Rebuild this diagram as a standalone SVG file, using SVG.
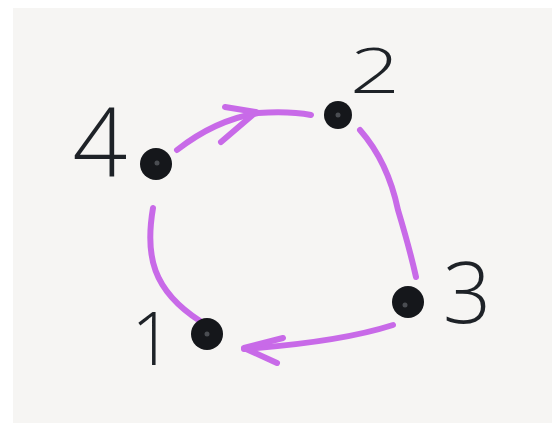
<svg xmlns="http://www.w3.org/2000/svg" width="552" height="424" viewBox="0 0 552 424">
<style>
.edge{fill:none;stroke:#c86ae8;stroke-width:6;stroke-linecap:round;stroke-linejoin:round}
.dot{fill:#15171b}
.hl{fill:#4a4d52}
.lbl{font-family:"Open Sans","Liberation Sans",Arial,sans-serif;font-weight:300;fill:#1e2227;text-anchor:middle}
</style>
<rect width="552" height="424" fill="#ffffff"/>
<rect x="13" y="8" width="539" height="415" fill="#f6f5f3"/>
<g id="connectors">
<path class="edge" d="M177,150 Q215,120 258,113 Q290,111 311,115"/>
<path class="edge" d="M225,107 L256,112 L221,142"/>
<path class="edge" d="M360,130 Q388,162 398,210 Q410,250 416,277"/>
<path class="edge" d="M393,325 Q340,342 244,349"/>
<path class="edge" d="M283,338 L244,348 L277,363"/>
<path class="edge" d="M153,208 C145,255 152,290 200,321"/>
</g>
<g id="node4">
<circle class="dot" cx="156" cy="164" r="16"/>
<circle class="hl" cx="157" cy="163" r="2.5"/>
<text class="lbl" x="100" y="177" font-size="96">4</text>
</g>
<g id="node2">
<circle class="dot" cx="338" cy="115" r="14"/>
<circle class="hl" cx="338" cy="115" r="2.5"/>
<text class="lbl" font-size="63" transform="translate(375,93) scale(1.4,1)">2</text>
</g>
<g id="node3">
<circle class="dot" cx="408" cy="302" r="16"/>
<circle class="hl" cx="405" cy="305" r="2.5"/>
<text class="lbl" x="467" y="323" font-size="85">3</text>
</g>
<g id="node1">
<circle class="dot" cx="207" cy="334" r="16"/>
<circle class="hl" cx="207" cy="334" r="2.5"/>
<text class="lbl" x="152" y="365" font-size="73">1</text>
</g>
</svg>
